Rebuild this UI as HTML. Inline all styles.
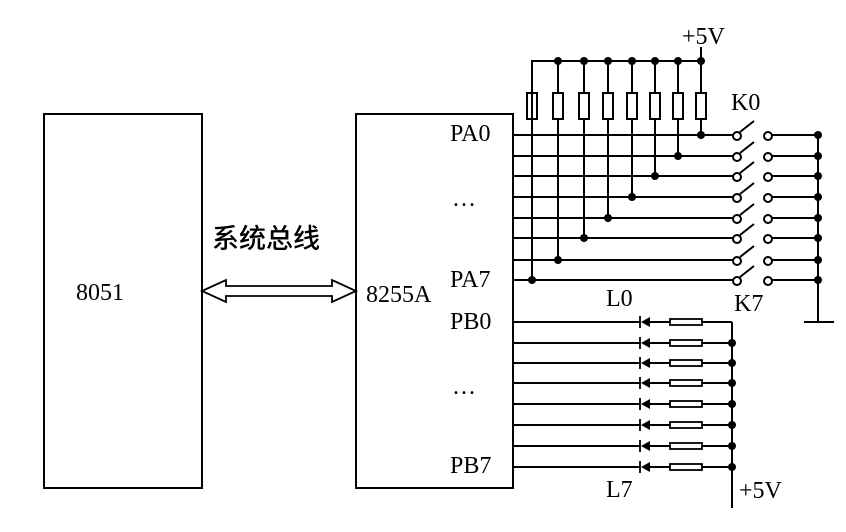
<!DOCTYPE html>
<html><head><meta charset="utf-8"><style>
html,body{margin:0;padding:0;background:#fff}
svg{display:block}
text{font-family:"Liberation Serif","Noto Serif CJK SC",serif;font-size:24px;fill:#000}
</style></head><body>
<svg width="846" height="532" viewBox="0 0 846 532" xmlns="http://www.w3.org/2000/svg">
<g fill="none" stroke="#000" stroke-width="2">
<rect x="44" y="114" width="158" height="374"/>
<rect x="356" y="114" width="157" height="374"/>
<path d="M202 291 L226 280 L226 286 L332 286 L332 280 L356 291 L332 302 L332 296 L226 296 L226 302 Z" stroke-width="1.8"/>
<path d="M532 119 V61 H701 V47"/>
<path d="M532 61V93 M558 61V93 M584 61V93 M608 61V93 M632 61V93 M655 61V93 M678 61V93 M701 61V93"/>
<rect x="527" y="93" width="10" height="26"/><rect x="553" y="93" width="10" height="26"/>
<rect x="579" y="93" width="10" height="26"/><rect x="603" y="93" width="10" height="26"/>
<rect x="627" y="93" width="10" height="26"/><rect x="650" y="93" width="10" height="26"/>
<rect x="673" y="93" width="10" height="26"/><rect x="696" y="93" width="10" height="26"/>
<path d="M701 119V135 M678 119V156 M655 119V176 M632 119V197 M608 119V218 M584 119V238 M558 119V260 M532 119V280"/>
<path d="M513 135H733 M513 156H733 M513 176H733 M513 197H733 M513 218H733 M513 238H733 M513 260H733 M513 280H733"/>
<path d="M772 135H818 M772 156H818 M772 176H818 M772 197H818 M772 218H818 M772 238H818 M772 260H818 M772 280H818"/>
<path d="M818 135V322 M804 322H834"/>
<g stroke-width="2">
<path d="M740 132L754 121 M740 153L754 142 M740 173L754 162 M740 194L754 183 M740 215L754 204 M740 235L754 224 M740 257L754 246 M740 277L754 266"/>
<circle cx="737" cy="136" r="4" fill="#fff"/><circle cx="737" cy="157" r="4" fill="#fff"/>
<circle cx="737" cy="177" r="4" fill="#fff"/><circle cx="737" cy="198" r="4" fill="#fff"/>
<circle cx="737" cy="219" r="4" fill="#fff"/><circle cx="737" cy="239" r="4" fill="#fff"/>
<circle cx="737" cy="261" r="4" fill="#fff"/><circle cx="737" cy="281" r="4" fill="#fff"/>
<circle cx="768" cy="136" r="4" fill="#fff"/><circle cx="768" cy="157" r="4" fill="#fff"/>
<circle cx="768" cy="177" r="4" fill="#fff"/><circle cx="768" cy="198" r="4" fill="#fff"/>
<circle cx="768" cy="219" r="4" fill="#fff"/><circle cx="768" cy="239" r="4" fill="#fff"/>
<circle cx="768" cy="261" r="4" fill="#fff"/><circle cx="768" cy="281" r="4" fill="#fff"/>
</g>
<path d="M513 322H640 M513 343H640 M513 363H640 M513 383H640 M513 404H640 M513 425H640 M513 446H640 M513 467H640"/>
<path d="M648 322H670 M648 343H670 M648 363H670 M648 383H670 M648 404H670 M648 425H670 M648 446H670 M648 467H670"/>
<path d="M702 322H732 M702 343H732 M702 363H732 M702 383H732 M702 404H732 M702 425H732 M702 446H732 M702 467H732"/>
<path d="M732 322V508"/>
<g stroke-width="1.8">
<rect x="670" y="319" width="32" height="6"/><rect x="670" y="340" width="32" height="6"/>
<rect x="670" y="360" width="32" height="6"/><rect x="670" y="380" width="32" height="6"/>
<rect x="670" y="401" width="32" height="6"/><rect x="670" y="422" width="32" height="6"/>
<rect x="670" y="443" width="32" height="6"/><rect x="670" y="464" width="32" height="6"/>
<path d="M640 316V328 M640 337V349 M640 357V369 M640 377V389 M640 398V410 M640 419V431 M640 440V452 M640 461V473"/>
</g>
</g>
<g fill="#000">
<path d="M641 322L650 317V327Z M641 343L650 338V348Z M641 363L650 358V368Z M641 383L650 378V388Z M641 404L650 399V409Z M641 425L650 420V430Z M641 446L650 441V451Z M641 467L650 462V472Z"/>
<circle cx="558" cy="61" r="4"/><circle cx="584" cy="61" r="4"/><circle cx="608" cy="61" r="4"/><circle cx="632" cy="61" r="4"/>
<circle cx="655" cy="61" r="4"/><circle cx="678" cy="61" r="4"/><circle cx="701" cy="61" r="4"/>
<circle cx="701" cy="135" r="4"/><circle cx="678" cy="156" r="4"/><circle cx="655" cy="176" r="4"/><circle cx="632" cy="197" r="4"/>
<circle cx="608" cy="218" r="4"/><circle cx="584" cy="238" r="4"/><circle cx="558" cy="260" r="4"/><circle cx="532" cy="280" r="4"/>
<circle cx="818" cy="135" r="4"/><circle cx="818" cy="156" r="4"/><circle cx="818" cy="176" r="4"/><circle cx="818" cy="197" r="4"/>
<circle cx="818" cy="218" r="4"/><circle cx="818" cy="238" r="4"/><circle cx="818" cy="260" r="4"/><circle cx="818" cy="280" r="4"/>
<circle cx="732" cy="343" r="4"/><circle cx="732" cy="363" r="4"/><circle cx="732" cy="383" r="4"/><circle cx="732" cy="404" r="4"/>
<circle cx="732" cy="425" r="4"/><circle cx="732" cy="446" r="4"/><circle cx="732" cy="467" r="4"/>
</g>
<text x="76" y="300">8051</text>
<text x="366" y="302">8255A</text>
<text x="212" y="248" style="font-family:'Noto Sans CJK SC',sans-serif;font-size:27px;font-weight:500">系统总线</text>
<text x="450" y="141">PA0</text>
<text x="452" y="206">…</text>
<text x="450" y="287">PA7</text>
<text x="450" y="329">PB0</text>
<text x="452" y="394">…</text>
<text x="450" y="473">PB7</text>
<text x="606" y="306">L0</text>
<text x="606" y="497">L7</text>
<text x="731" y="110">K0</text>
<text x="734" y="311">K7</text>
<text x="682" y="44">+5V</text>
<text x="739" y="498">+5V</text>
</svg>
</body></html>
